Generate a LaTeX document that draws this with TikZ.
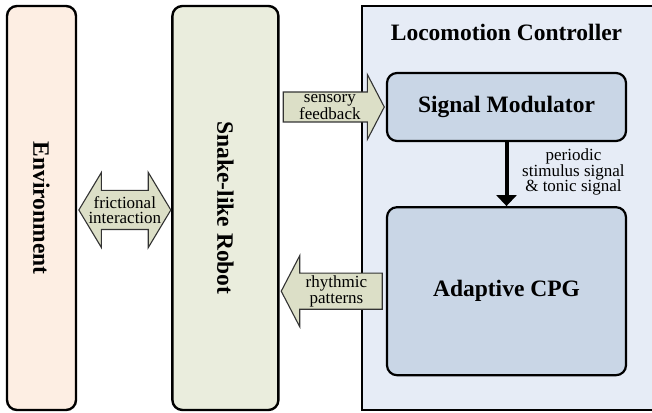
\documentclass[tikz,border=0pt]{standalone}
\usepackage{fontspec}
\setmainfont{Liberation Serif}
\newfontfamily\timesfont{Liberation Serif}
\usetikzlibrary{positioning,shapes.arrows,arrows.meta}

\definecolor{envfill}{HTML}{FDEEE3}
\definecolor{robotfill}{HTML}{EAEDDD}
\definecolor{ctrlfill}{HTML}{E6ECF6}
\definecolor{blockfill}{HTML}{C9D6E6}
\definecolor{arrowfill}{HTML}{DCDFC7}

\begin{document}
\begin{tikzpicture}[
  x=1pt, y=1pt,
  node distance=94pt,
  bigtext/.style={font=\timesfont\fontsize{23.5}{28}\selectfont\bfseries},
  smalltext/.style={font=\timesfont\fontsize{17}{15.5}\selectfont},
  sidebox/.style={rectangle, rounded corners=10pt, draw=black, line width=2.4pt, minimum width=69pt, minimum height=404pt, inner sep=0pt, bigtext},
  blockbox/.style={rectangle, rounded corners=10pt, draw=black, line width=2.2pt, fill=blockfill, minimum width=239pt, inner sep=0pt, bigtext},
  flowarrow/.style={single arrow, draw=black!80, line width=1.1pt, fill=arrowfill, single arrow head extend=17.5pt, single arrow tip angle=125, single arrow head indent=0pt, minimum height=101pt, inner sep=2pt, align=center, smalltext},
  twowayarrow/.style={double arrow, draw=black!80, line width=1.1pt, fill=arrowfill, double arrow head extend=18pt, double arrow tip angle=118, double arrow head indent=0pt, minimum height=92pt, inner sep=2pt},
  >={Triangle[width=20pt,length=11pt]}
]
  \useasboundingbox (0,0) rectangle (652,412);
  \node[sidebox, fill=envfill] (env) at (41.5,204) {\rotatebox{-90}{Environment}};
  \node[sidebox, fill=robotfill, minimum width=106pt, right=of env] (robot) {\rotatebox{-90}{Snake-like Robot}};
  \node[rectangle, draw=black, line width=2pt, fill=ctrlfill, minimum width=345pt, minimum height=404pt, right=81pt of robot] (ctrl) {};
  \node[bigtext] (title) at (506.5,380) {Locomotion Controller};
  \node[blockbox, minimum height=68pt] (mod) at (506.5,305) {Signal Modulator};
  \node[blockbox, minimum height=168pt, below=64pt of mod] (cpg) {Adaptive CPG};
  \draw[->, line width=4pt] (mod) -- (cpg);
  \node[anchor=west, inner sep=0pt, align=center, smalltext] (stim) at ([xshift=15.5pt,yshift=-30pt]mod.south) {periodic\\stimulus signal\\\& tonic signal};
  \node[flowarrow, anchor=tip] (sense) at ([xshift=-1pt]mod.west) {sensory\\feedback};
  \node[flowarrow, shape border rotate=180, right=1pt of robot.east |- cpg, anchor=tip] (rhythm) {rhythmic\\patterns};
  % label drawn over the heads, as in the figure
  \node[twowayarrow, right=1pt of env, yshift=-2pt,
    label={[smalltext, align=center, inner sep=0pt]center:frictional\\interaction}] (fric) {\rule{0pt}{34pt}};
\end{tikzpicture}
\end{document}
